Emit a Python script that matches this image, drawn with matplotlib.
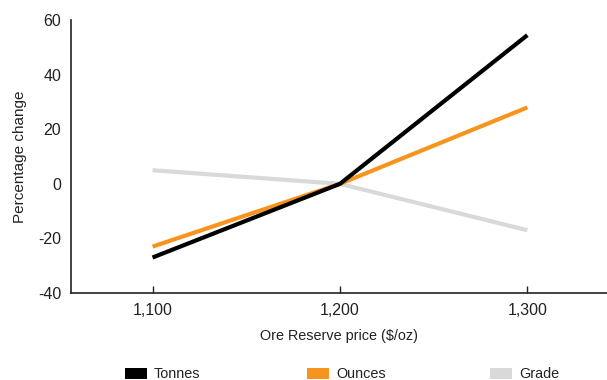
import matplotlib.pyplot as plt
from matplotlib.patches import Rectangle

plt.rcParams['font.family'] = ['Liberation Sans', 'DejaVu Sans']
plt.rcParams['axes.unicode_minus'] = False

price = [1100, 1200, 1300]
tonnes = [-27, 0, 54.5]
ounces = [-23, 0, 28]
grade = [5, 0, -17]

series_names = ['Tonnes', 'Ounces', 'Grade']
colours = ['#000000', '#f7941d', '#d9d9d9']

fig = plt.figure(figsize=(6.07, 3.8), dpi=100)
ax = fig.add_axes([0.117, 0.229, 0.883, 0.718])

for vals, col in zip([grade, ounces, tonnes], [colours[2], colours[1], colours[0]]):
    ax.plot(price, vals, color=col, lw=3, solid_capstyle='butt')

ax.set_xlim(1056.5, 1342.5)
ax.set_ylim(-40, 60)
ax.set_xticks(price)
ax.set_xticklabels(['1,100', '1,200', '1,300'])
ax.set_yticks([-40, -20, 0, 20, 40, 60])
ax.tick_params(axis='x', direction='in', length=5, width=1, pad=7, labelsize=11.5, colors='#222222')
ax.tick_params(axis='y', length=0, pad=7, labelsize=11.5, colors='#222222')
ax.spines['top'].set_visible(False)
ax.spines['right'].set_visible(False)
for s in ['left', 'bottom']:
    ax.spines[s].set_linewidth(1.2)
    ax.spines[s].set_color('#222222')

ax.set_xlabel('Ore Reserve price ($/oz)', fontsize=10.4, color='#222222', labelpad=8)
ax.set_ylabel('Percentage change', fontsize=11, color='#222222', labelpad=8)

# legend laid out by hand along the bottom
leg_x = [125, 307, 490]
for x0, name, col in zip(leg_x, series_names, colours):
    fig.patches.append(Rectangle((x0 / 607, 1 / 380), 22 / 607, 11 / 380,
                                 transform=fig.transFigure, facecolor=col, edgecolor='none'))
    fig.text((x0 + 29) / 607, 2 / 380, name, fontsize=10.4, color='#222222',
             va='baseline', ha='left')

fig.savefig('out.png', dpi=100)
